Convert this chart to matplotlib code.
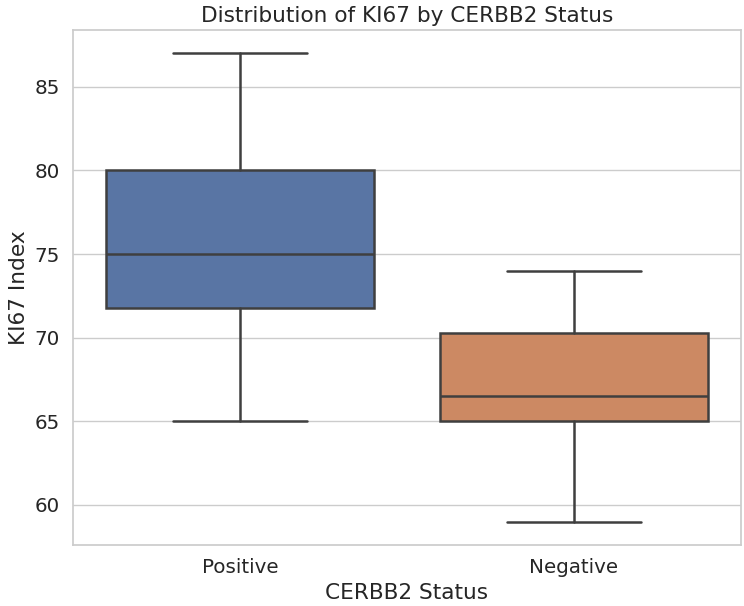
import matplotlib
matplotlib.use("Agg")
import matplotlib.pyplot as plt
import seaborn as sns

categories = ["Positive", "Negative"]
whislo = [65, 59]
q1 = [71.75, 65]
med = [75, 66.5]
q3 = [80, 70.25]
whishi = [87, 74]
colors = ["#5975A4", "#CC8963"]

sns.set_theme(style="whitegrid", font_scale=1.3)
plt.rcParams['font.family'] = ['DejaVu Sans']

fig = plt.figure(figsize=(7.44, 6.06), dpi=100)
ax = fig.add_axes([0.098, 0.1007, 0.898, 0.8498])

stats = []
for c, lo, a, m, b, hi in zip(categories, whislo, q1, med, q3, whishi):
    stats.append(dict(label=c, whislo=lo, q1=a, med=m, q3=b, whishi=hi, fliers=[]))

line_color = "#3f3f3f"
lw = 1.8
bp = ax.bxp(stats, positions=range(len(categories)), widths=0.8, patch_artist=True,
            showfliers=False,
            boxprops=dict(edgecolor=line_color, linewidth=lw),
            whiskerprops=dict(color=line_color, linewidth=lw),
            capprops=dict(color=line_color, linewidth=lw),
            medianprops=dict(color=line_color, linewidth=lw))
for patch, col in zip(bp['boxes'], colors):
    patch.set_facecolor(col)
for cap in bp['caps']:
    xd = cap.get_xdata()
    cx = (xd[0] + xd[1]) / 2
    cap.set_xdata([cx - 0.2, cx + 0.2])

ax.set_xlim(-0.5, 1.5)
ax.set_ylim(57.6, 88.4)
ax.set_xticks(range(len(categories)))
ax.set_xticklabels(categories)
ax.xaxis.grid(False)
ax.set_xlabel("CERBB2 Status")
ax.set_ylabel("KI67 Index")
ax.set_title("Distribution of KI67 by CERBB2 Status")

fig.savefig("out.png", dpi=100)
